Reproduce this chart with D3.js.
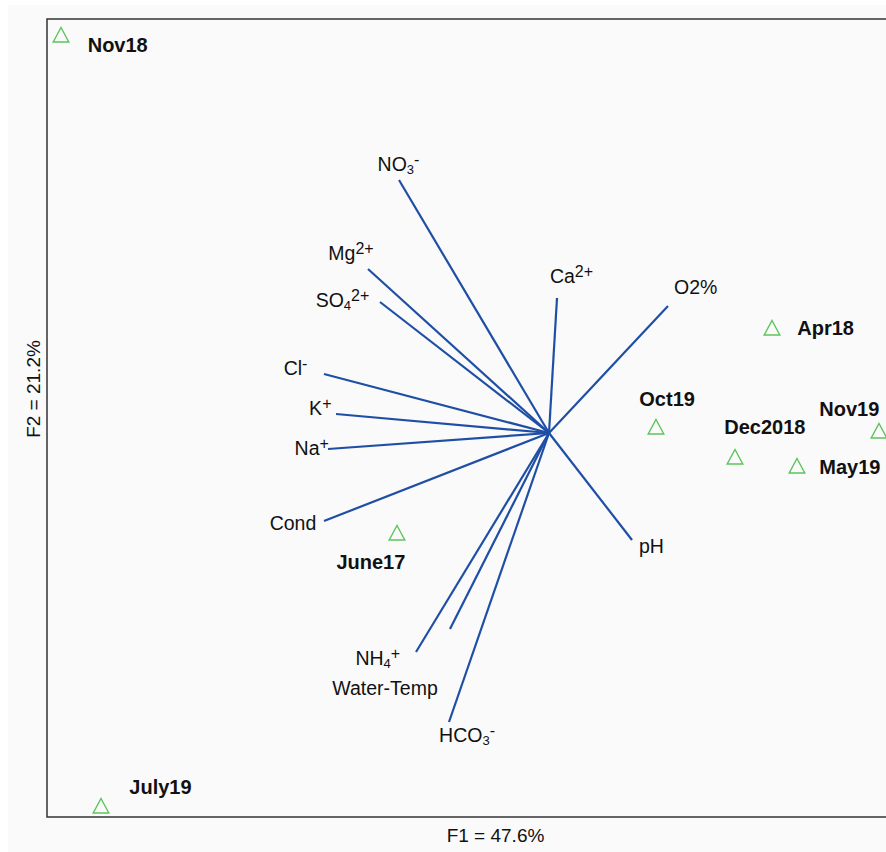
<!DOCTYPE html>
<html>
<head>
<meta charset="utf-8">
<script src="https://cdn.jsdelivr.net/npm/d3@7"></script>
<style>
  body { margin: 0; background: #fff; }
  text { font-family: "Liberation Sans", Arial, sans-serif; fill: #111; }
</style>
</head>
<body>
<div id="chart"></div>
<script>
// sample scores on F1 / F2
var samples  = ["Nov18", "July19", "June17", "Apr18", "Oct19", "Dec2018", "Nov19", "May19"];
var sampleF1 = [-4.88, -4.48, -1.52, 2.23, 1.07, 1.86, 3.30, 2.48];
var sampleF2 = [ 3.98, -3.73, -1.00, 1.05, 0.06, -0.24, 0.02, -0.33];

// variable loadings on F1 / F2
var variables = ["NO3-", "Mg2+", "SO42+", "Ca2+", "O2%", "Cl-", "K+", "Na+", "Cond", "pH", "NH4+", "Water-Temp", "HCO3-"];
var varF1 = [-1.50, -1.81, -1.69, 0.08, 1.19, -2.25, -2.13, -2.21, -2.25, 0.83, -1.33, -0.99, -1.00];
var varF2 = [ 2.53,  1.64,  1.31, 1.35, 1.27,  0.59,  0.19, -0.16, -0.88, -1.07, -2.19, -1.96, -2.89];

// how each variable name is typeset: [text, "sub" | "sup" | ""]
var varLabelParts = [
  [["NO", ""], ["3", "sub"], ["-", "sup"]],
  [["Mg", ""], ["2+", "sup"]],
  [["SO", ""], ["4", "sub"], ["2+", "sup"]],
  [["Ca", ""], ["2+", "sup"]],
  [["O2%", ""]],
  [["Cl", ""], ["-", "sup"]],
  [["K", ""], ["+", "sup"]],
  [["Na", ""], ["+", "sup"]],
  [["Cond", ""]],
  [["pH", ""]],
  [["NH", ""], ["4", "sub"], ["+", "sup"]],
  [["Water-Temp", ""]],
  [["HCO", ""], ["3", "sub"], ["-", "sup"]]
];

// axis titles
var xTitle = "F1 = 47.6%";
var yTitle = "F2 = 21.2%";

// label placement (pixels from the mark)
var varLabelOffset = [[-0.5, -9.3], [-17, -8.6], [-37.5, 4.7], [14.5, -15.3], [27.7, -12.4],
  [-28.5, 0.7], [-15.7, 1.4], [-16.3, 6.4], [-31, 9.3], [19.4, 13.3], [-38.2, 12.7], [-65, 65.7], [18, 20.4]];
var sampleLabelOffset = [[26.7, 17.3], [28.3, -12.4], [-60.6, 36], [25.3, 6.7], [-16.7, -21],
  [-10.7, -23.4], [-59.7, -15], [22.3, 7.6]];

var width = 886, height = 852;
var plot = { left: 47, top: 19, right: 887, bottom: 817 };

var x = d3.scaleLinear().domain([-5.02, 3.38]).range([plot.left, plot.right]);
var y = d3.scaleLinear().domain([-3.84, 4.14]).range([plot.bottom, plot.top]);

var svg = d3.select("#chart").append("svg")
  .attr("width", width)
  .attr("height", height);

// page background
svg.append("rect")
  .attr("x", 8).attr("y", 5)
  .attr("width", width - 8).attr("height", height - 5)
  .attr("fill", "#fafafa");

// frame (left, top, bottom)
svg.append("path")
  .attr("d", "M" + plot.right + "," + plot.top + "H" + plot.left + "V" + plot.bottom + "H" + plot.right)
  .attr("fill", "none")
  .attr("stroke", "#333")
  .attr("stroke-width", 1.5);

// loading vectors
var vars = variables.map(function(v, i) { return { name: v, f1: varF1[i], f2: varF2[i], parts: varLabelParts[i], off: varLabelOffset[i] }; });

svg.selectAll(".vec")
  .data(vars)
  .enter().append("line")
  .attr("class", "vec")
  .attr("x1", x(0)).attr("y1", y(0))
  .attr("x2", function(d) { return x(d.f1); })
  .attr("y2", function(d) { return y(d.f2); })
  .attr("stroke", "#1f4fa5")
  .attr("stroke-width", 2.2);

var vlab = svg.selectAll(".vlab")
  .data(vars)
  .enter().append("text")
  .attr("class", "vlab")
  .attr("x", function(d) { return x(d.f1) + d.off[0]; })
  .attr("y", function(d) { return y(d.f2) + d.off[1]; })
  .attr("text-anchor", "middle")
  .style("font-size", "19.5px");

vlab.each(function(d) {
  var t = d3.select(this);
  var shift = 0;
  d.parts.forEach(function(p) {
    var target = 0, size = 19.5;
    if (p[1] === "sub") { target = 3; size = 13; }
    if (p[1] === "sup") { target = -6; size = 16; }
    t.append("tspan")
      .attr("dy", target - shift)
      .style("font-size", size + "px")
      .text(p[0]);
    shift = target;
  });
});

// sample points
var pts = samples.map(function(s, i) { return { name: s, f1: sampleF1[i], f2: sampleF2[i], off: sampleLabelOffset[i] }; });

svg.selectAll(".pt")
  .data(pts)
  .enter().append("path")
  .attr("class", "pt")
  .attr("transform", function(d) { return "translate(" + x(d.f1) + "," + y(d.f2) + ")"; })
  .attr("d", "M0,-7.5L7.8,7L-7.8,7Z")
  .attr("fill", "none")
  .attr("stroke", "#5cc45c")
  .attr("stroke-width", 1.4);

svg.selectAll(".plab")
  .data(pts)
  .enter().append("text")
  .attr("class", "plab")
  .attr("x", function(d) { return x(d.f1) + d.off[0]; })
  .attr("y", function(d) { return y(d.f2) + d.off[1]; })
  .style("font-size", "20px")
  .style("font-weight", "bold")
  .text(function(d) { return d.name; });

// axis titles
svg.append("text")
  .attr("x", 495.5).attr("y", 842)
  .attr("text-anchor", "middle")
  .style("font-size", "19px")
  .text(xTitle);

svg.append("text")
  .attr("transform", "translate(39.5,389) rotate(-90)")
  .attr("text-anchor", "middle")
  .style("font-size", "19px")
  .text(yTitle);
</script>
</body>
</html>
